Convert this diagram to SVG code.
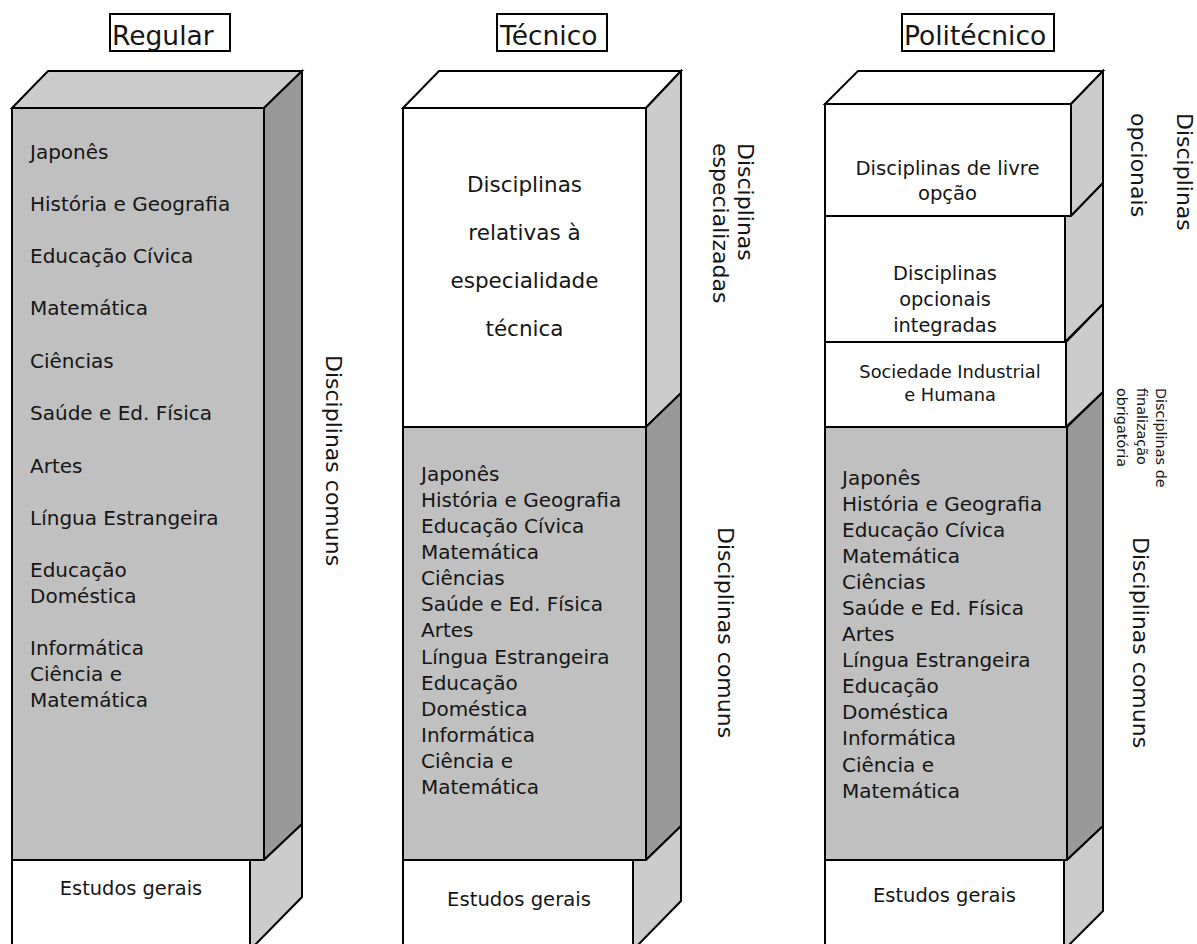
<svg xmlns="http://www.w3.org/2000/svg" width="1197" height="944" viewBox="0 0 1197 944">
<style>
text{font-family:'DejaVu Sans','Liberation Sans',sans-serif;fill:#151515}
.hd{font-size:26.5px}
.ln{fill:none;stroke:#000;stroke-width:2;stroke-linejoin:miter}
.w{fill:#fff;stroke:#000;stroke-width:2}
.g{fill:#c0c0c0;stroke:#000;stroke-width:2}
.lt{fill:#cccccc;stroke:#000;stroke-width:2}
.dk{fill:#999999;stroke:#000;stroke-width:2}
.list{font-size:20px}
.c{text-anchor:middle}
.vl{font-size:22px}
</style>
<rect width="1197" height="944" fill="#fff"/>

<!-- Headers -->
<g id="hdr-regular"><rect class="ln" x="110" y="14" width="120" height="37"/><text class="hd" x="112" y="45">Regular</text></g>
<g id="hdr-tecnico"><rect class="ln" x="497" y="14" width="110" height="37"/><text class="hd" x="500" y="45">Técnico</text></g>
<g id="hdr-politecnico"><rect class="ln" x="902" y="14" width="152" height="37"/><text class="hd" x="904" y="45">Politécnico</text></g>

<!-- Regular column -->
<g id="regular-comuns">
<polygon class="lt" points="12,108 48,71 302,71 264,108"/>
<polygon class="dk" points="264,108 302,71 302,824 264,860"/>
<rect class="g" x="12" y="108" width="252" height="752"/>
<g class="list">
<text x="30" y="159">Japonês</text>
<text x="30" y="211">História e Geografia</text>
<text x="30" y="263">Educação Cívica</text>
<text x="30" y="315">Matemática</text>
<text x="30" y="368">Ciências</text>
<text x="30" y="420">Saúde e Ed. Física</text>
<text x="30" y="473">Artes</text>
<text x="30" y="525">Língua Estrangeira</text>
<text x="30" y="577">Educação</text>
<text x="30" y="603">Doméstica</text>
<text x="30" y="655">Informática</text>
<text x="30" y="681">Ciência e</text>
<text x="30" y="707">Matemática</text>
</g>
</g>
<g id="regular-gerais">
<polygon class="lt" points="250,860 264,860 302,824 302,897 250,950"/>
<rect class="w" x="12" y="860" width="238" height="95"/>
<text x="131" y="895" class="c" font-size="19.4">Estudos gerais</text>
</g>
<g id="regular-label"><text class="vl" transform="translate(326,355) rotate(90)">Disciplinas comuns</text></g>

<!-- Tecnico column -->
<g id="tecnico-especializadas">
<polygon class="w" points="403,108 439,71 681,71 646,108"/>
<polygon class="lt" points="646,108 681,71 681,393 646,427"/>
<rect class="w" x="403" y="108" width="243" height="319"/>
<g font-size="21.5px" class="c">
<text x="524.5" y="192">Disciplinas</text>
<text x="524.5" y="240">relativas à</text>
<text x="524.5" y="288">especialidade</text>
<text x="524.5" y="336">técnica</text>
</g>
</g>
<g id="tecnico-comuns">
<polygon class="dk" points="646,427 681,393 681,826 646,860"/>
<rect class="g" x="403" y="427" width="243" height="433"/>
<g class="list" font-size="20.3px">
<text x="421" y="481">Japonês</text>
<text x="421" y="507">História e Geografia</text>
<text x="421" y="533">Educação Cívica</text>
<text x="421" y="559">Matemática</text>
<text x="421" y="585">Ciências</text>
<text x="421" y="611">Saúde e Ed. Física</text>
<text x="421" y="637">Artes</text>
<text x="421" y="664">Língua Estrangeira</text>
<text x="421" y="690">Educação</text>
<text x="421" y="716">Doméstica</text>
<text x="421" y="742">Informática</text>
<text x="421" y="768">Ciência e</text>
<text x="421" y="794">Matemática</text>
</g>
</g>
<g id="tecnico-gerais">
<polygon class="lt" points="633,860 646,860 681,826 681,901 633,950"/>
<rect class="w" x="403" y="860" width="230" height="95"/>
<text x="519" y="906" class="c" font-size="19.6">Estudos gerais</text>
</g>
<g id="tecnico-labels">
<text class="vl" transform="translate(738,143) rotate(90)"><tspan x="0" y="0">Disciplinas</tspan><tspan x="0" y="25">especializadas</tspan></text>
<text class="vl" transform="translate(718,527) rotate(90)">Disciplinas comuns</text>
</g>

<!-- Politecnico column -->
<g id="poli-livre">
<polygon class="w" points="825,104 858,71 1103,71 1071,104"/>
<polygon class="lt" points="1071,104 1103,71 1103,183 1071,216"/>
<rect class="w" x="825" y="104" width="246" height="112"/>
<g font-size="19.6px" class="c">
<text x="947.5" y="175">Disciplinas de livre</text>
<text x="947.5" y="200">opção</text>
</g>
</g>
<g id="poli-integradas">
<polygon class="lt" points="1065,216 1071,216 1103,183 1103,304 1065,342"/>
<rect class="w" x="825" y="216" width="240" height="126"/>
<g font-size="19.4px" class="c">
<text x="945" y="280">Disciplinas</text>
<text x="945" y="306">opcionais</text>
<text x="945" y="332">integradas</text>
</g>
</g>
<g id="poli-sociedade">
<polygon class="lt" points="1066,342 1103,304 1103,392 1066,427"/>
<rect class="w" x="825" y="342" width="241" height="85"/>
<g font-size="17.8px" class="c">
<text x="950" y="378">Sociedade Industrial</text>
<text x="950" y="401">e Humana</text>
</g>
</g>
<g id="poli-comuns">
<polygon class="dk" points="1067,427 1103,392 1103,826 1067,860"/>
<rect class="g" x="825" y="427" width="242" height="433"/>
<g class="list" font-size="20.3px">
<text x="842" y="485">Japonês</text>
<text x="842" y="511">História e Geografia</text>
<text x="842" y="537">Educação Cívica</text>
<text x="842" y="563">Matemática</text>
<text x="842" y="589">Ciências</text>
<text x="842" y="615">Saúde e Ed. Física</text>
<text x="842" y="641">Artes</text>
<text x="842" y="667">Língua Estrangeira</text>
<text x="842" y="693">Educação</text>
<text x="842" y="719">Doméstica</text>
<text x="842" y="745">Informática</text>
<text x="842" y="772">Ciência e</text>
<text x="842" y="798">Matemática</text>
</g>
</g>
<g id="poli-gerais">
<polygon class="lt" points="1064,860 1067,860 1103,826 1103,911 1064,950"/>
<rect class="w" x="825" y="860" width="239" height="95"/>
<text x="944.5" y="902" class="c" font-size="19.5">Estudos gerais</text>
</g>
<g id="poli-labels">
<text class="vl" transform="translate(1177,113) rotate(90)"><tspan x="0" y="0">Disciplinas</tspan><tspan x="0" y="46">opcionais</tspan></text>
<text font-size="14.4px" transform="translate(1156,388) rotate(90)"><tspan x="0" y="0">Disciplinas de</tspan><tspan x="0" y="19.5">finalização</tspan><tspan x="0" y="39">obrigatória</tspan></text>
<text class="vl" transform="translate(1133,537) rotate(90)">Disciplinas comuns</text>
</g>
<g id="connectors"/>
</svg>
